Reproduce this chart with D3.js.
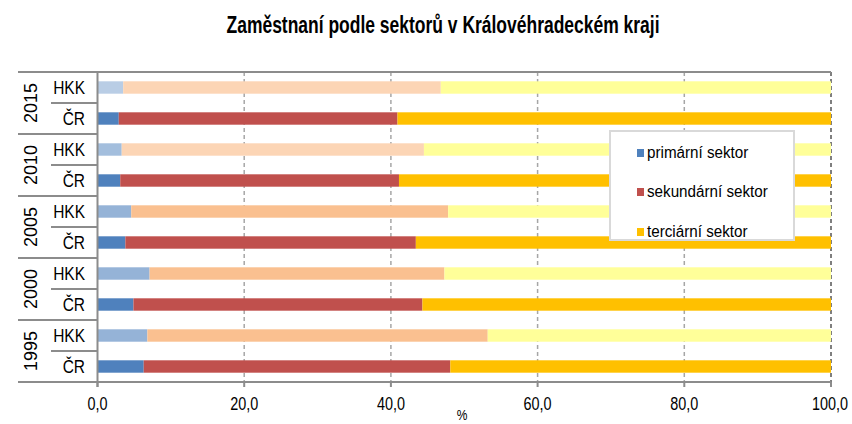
<!DOCTYPE html>
<html>
<head>
<meta charset="utf-8">
<script src="https://cdn.jsdelivr.net/npm/d3@7"></script>
<style>
  body { margin: 0; background: #fff; }
  text { font-family: "Liberation Sans", Arial, sans-serif; fill: #000; }
</style>
</head>
<body>
<div id="chart"></div>
<script>
// data (% of employed)
var years = ['2015', '2010', '2005', '2000', '1995'];
var regions = ['HKK', 'ČR'];
var sectors = ['primární sektor', 'sekundární sektor', 'terciární sektor'];
var primaryHKK = [3.5, 3.3, 4.6, 7.1, 6.8];
var primaryCR = [2.9, 3.1, 3.8, 4.9, 6.3];
var secondaryHKK = [43.3, 41.2, 43.2, 40.2, 46.4];
var secondaryCR = [38.0, 38.0, 39.6, 39.4, 41.8];
var tertiaryHKK = [53.2, 55.5, 52.2, 52.7, 46.8];
var tertiaryCR = [59.1, 58.9, 56.6, 55.7, 51.9];
var xTicks = [0, 20, 40, 60, 80, 100];

var W = 852, H = 424;
var plot = { left: 97.5, right: 831, top: 72, bottom: 382 };

// colours
var crColors = ['#4f81bd', '#c0504d', '#ffc000'];
var hkkColors = {
  '2015': ['#b9cde5', '#fcd5b5', '#ffff99'],
  '2010': ['#a3bedd', '#fcd5b5', '#ffff99'],
  '2005': ['#95b3d7', '#fac090', '#ffff99'],
  '2000': ['#95b3d7', '#fac090', '#ffff99'],
  '1995': ['#95b3d7', '#fac090', '#ffff99']
};

// build rows
var rows = [];
years.forEach(function (y, i) {
  rows.push({ key: y + '-HKK', year: y, region: 'HKK', p: primaryHKK[i], s: secondaryHKK[i], t: tertiaryHKK[i] });
  rows.push({ key: y + '-CR', year: y, region: 'ČR', p: primaryCR[i], s: secondaryCR[i], t: tertiaryCR[i] });
});

var stack = d3.stack().keys(['p', 's', 't']);
var series = stack(rows);

var x = d3.scaleLinear().domain([0, 100]).range([plot.left, plot.right]);
var y = d3.scaleBand().domain(rows.map(function (d) { return d.key; }))
  .range([plot.top, plot.bottom]).paddingInner(0.6).paddingOuter(0.3);

var svg = d3.select('#chart').append('svg')
  .attr('width', W).attr('height', H);

// squeeze text horizontally like the narrow font in the original
function squeeze(sel, f) {
  sel.each(function () {
    var len = this.getComputedTextLength();
    d3.select(this).attr('textLength', len * f).attr('lengthAdjust', 'spacingAndGlyphs');
  });
}

// title
svg.append('text')
  .attr('x', 443).attr('y', 33)
  .attr('text-anchor', 'middle')
  .style('font-size', '23px').style('font-weight', 'bold')
  .text('Zaměstnaní podle sektorů v Královéhradeckém kraji')
  .attr('textLength', 433).attr('lengthAdjust', 'spacingAndGlyphs');

// gridlines
svg.append('g').selectAll('line')
  .data(xTicks.slice(1))
  .join('line')
  .attr('x1', function (d) { return x(d); })
  .attr('x2', function (d) { return x(d); })
  .attr('y1', plot.top).attr('y2', plot.bottom)
  .attr('stroke', function (d) { return d === 100 ? '#555' : '#a6a6a6'; })
  .attr('stroke-width', 1.5)
  .attr('stroke-dasharray', '4,3');

// bars
var barG = svg.append('g');
series.forEach(function (s, si) {
  barG.selectAll(null)
    .data(s)
    .join('rect')
    .attr('x', function (d) { return x(d[0]); })
    .attr('width', function (d) { return x(d[1]) - x(d[0]); })
    .attr('y', function (d) { return y(d.data.key); })
    .attr('height', y.bandwidth())
    .attr('fill', function (d) {
      return d.data.region === 'HKK' ? hkkColors[d.data.year][si] : crColors[si];
    });
});

// axes lines
var axisColor = '#8c8c8c';
svg.append('line')
  .attr('x1', 18).attr('x2', plot.right).attr('y1', plot.top).attr('y2', plot.top)
  .attr('stroke', axisColor).attr('stroke-width', 2);
svg.append('line')
  .attr('x1', 18).attr('x2', plot.right).attr('y1', plot.bottom).attr('y2', plot.bottom)
  .attr('stroke', axisColor).attr('stroke-width', 2);
svg.append('line')
  .attr('x1', plot.left).attr('x2', plot.left).attr('y1', plot.top).attr('y2', plot.bottom + 5)
  .attr('stroke', axisColor).attr('stroke-width', 2);

// x ticks and labels
var xt = svg.append('g');
xt.selectAll('line').data(xTicks).join('line')
  .attr('x1', function (d) { return x(d); }).attr('x2', function (d) { return x(d); })
  .attr('y1', plot.bottom).attr('y2', plot.bottom + 5)
  .attr('stroke', axisColor).attr('stroke-width', 2);
xt.selectAll('text').data(xTicks).join('text')
  .attr('x', function (d) { return d === 100 ? x(d) + 17 : x(d); }).attr('y', 409.5)
  .attr('text-anchor', function (d) { return d === 100 ? 'end' : 'middle'; })
  .style('font-size', '18px')
  .text(function (d) { return d3.format('.1f')(d).replace('.', ','); })
  .call(squeeze, 0.8);

svg.append('text')
  .attr('x', 462).attr('y', 420)
  .attr('text-anchor', 'middle')
  .style('font-size', '15px')
  .text('%')
  .call(squeeze, 0.8);

// category axis: group separators and labels
var step = y.step();
years.forEach(function (yr, i) {
  var top = plot.top + i * 2 * step;
  var mid = top + step;
  svg.append('line')
    .attr('x1', 18).attr('x2', plot.left).attr('y1', top).attr('y2', top)
    .attr('stroke', axisColor).attr('stroke-width', 2);
  svg.append('line')
    .attr('x1', 51).attr('x2', plot.left).attr('y1', mid).attr('y2', mid)
    .attr('stroke', axisColor).attr('stroke-width', 2);
  svg.append('text')
    .attr('transform', 'translate(30.5,' + mid + ') rotate(-90)')
    .attr('text-anchor', 'middle')
    .attr('dy', '0.35em')
    .style('font-size', '18px')
    .text(yr);
});

svg.append('g').selectAll('text')
  .data(rows)
  .join('text')
  .attr('x', 85)
  .attr('y', function (d) { return y(d.key) + y.bandwidth() / 2; })
  .attr('dy', '0.36em')
  .attr('text-anchor', 'end')
  .style('font-size', '18px')
  .text(function (d) { return d.region; })
  .call(squeeze, 0.86);

// legend
var lg = svg.append('g');
lg.append('rect')
  .attr('x', 610).attr('y', 131).attr('width', 184).attr('height', 109)
  .attr('fill', '#fff').attr('stroke', '#d9d9d9').attr('stroke-width', 2);
var legY = [158, 197, 237];
sectors.forEach(function (name, i) {
  lg.append('rect')
    .attr('x', 637).attr('y', legY[i] - 9).attr('width', 7).attr('height', 8)
    .attr('fill', crColors[i]);
  lg.append('text')
    .attr('x', 647).attr('y', legY[i])
    .style('font-size', '16px')
    .text(name)
    .call(squeeze, 0.95);
});
</script>
</body>
</html>
